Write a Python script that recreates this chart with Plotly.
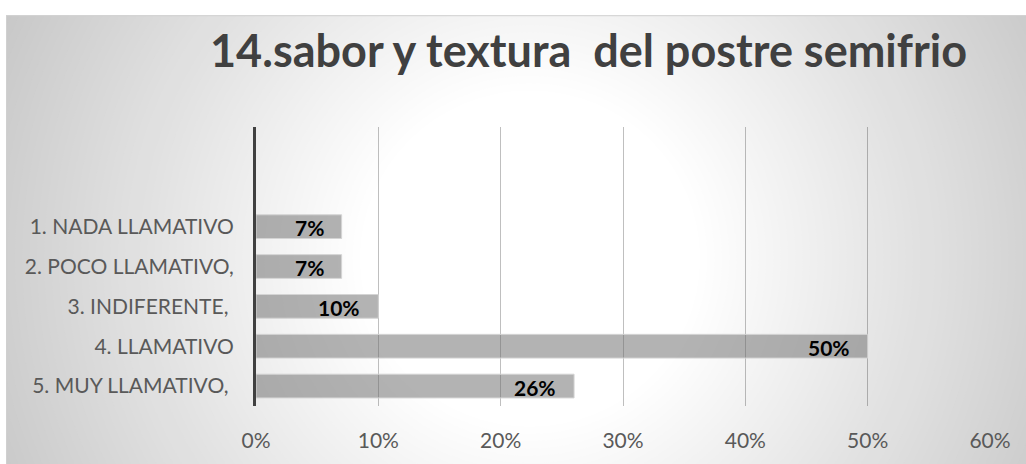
import plotly.graph_objects as go

# ---- data ----
categories = ["1. NADA LLAMATIVO", "2. POCO LLAMATIVO,", "3. INDIFERENTE, ", "4. LLAMATIVO", "5. MUY LLAMATIVO, "]
values = [0.07, 0.07, 0.10, 0.50, 0.26]
x_ticks = [0, 0.1, 0.2, 0.3, 0.4, 0.5, 0.6]
title_text = "14.sabor y textura  del postre semifrio"

# ---- layout geometry (pixels) ----
FW, FH = 1026, 464
L, R, T, B = 256, 990, 127, 409
PW, PH = R - L, B - T

def px_x(p):
    return (p - L) / PW

def px_y(p):
    return (B - p) / PH

FONT = "Lato"

fig = go.Figure()
fig.add_trace(go.Bar(
    x=values,
    y=categories,
    orientation="h",
    marker=dict(color="rgba(110,110,110,0.52)", line=dict(color="#d4d4d4", width=1)),
    hoverinfo="skip",
))

# bar value labels
annotations = []
for c, v in zip(categories, values):
    annotations.append(dict(
        x=v, y=c, xref="x", yref="y", text=f"<b>{v:.0%}</b>", showarrow=False,
        xanchor="right", yanchor="middle", xshift=-16, yshift=-1,
        font=dict(family=FONT, size=21, color="#000000"),
    ))

# title
annotations.append(dict(
    x=px_x(588), y=px_y(49), xref="paper", yref="paper", text=f"<b>{title_text}</b>",
    showarrow=False, xanchor="center", yanchor="middle",
    font=dict(family=FONT, size=45, color="#404040"),
))

# radial gradient background via concentric circles
shapes = []
cx, cy = 530, 260
r0, r1 = 170, 640
N = 64
for i in range(N + 1):
    r = r1 - (r1 - r0) * i / N
    v = int(round(255 - (r - r0) / (r1 - r0) * (255 - 192)))
    col = f"rgb({v},{v},{v})"
    shapes.append(dict(
        type="circle", xref="paper", yref="paper", layer="below",
        x0=px_x(cx - r), x1=px_x(cx + r), y0=px_y(cy + r), y1=px_y(cy - r),
        fillcolor=col, line=dict(width=0),
    ))
# white strips outside the chart frame
shapes.append(dict(type="rect", xref="paper", yref="paper", layer="below",
                   x0=px_x(-10), x1=px_x(FW + 10), y0=px_y(14), y1=px_y(-10),
                   fillcolor="white", line=dict(width=0)))
shapes.append(dict(type="rect", xref="paper", yref="paper", layer="below",
                   x0=px_x(-10), x1=px_x(6), y0=px_y(FH + 10), y1=px_y(-10),
                   fillcolor="white", line=dict(width=0)))
# frame border
shapes.append(dict(type="rect", xref="paper", yref="paper", layer="below",
                   x0=px_x(6.5), x1=px_x(FW + 10), y0=px_y(FH + 10), y1=px_y(14.5),
                   fillcolor="rgba(0,0,0,0)", line=dict(color="#d0d0d0", width=1)))

fig.update_layout(
    width=FW, height=FH,
    margin=dict(l=L, r=FW - R, t=T, b=FH - B, pad=0),
    paper_bgcolor="white",
    plot_bgcolor="rgba(0,0,0,0)",
    showlegend=False,
    bargap=0.405,
    shapes=shapes,
    annotations=annotations,
    xaxis=dict(
        range=[0, 0.6], tickvals=x_ticks, tickformat=".0%",
        showgrid=True, gridcolor="rgba(0,0,0,0.25)", gridwidth=1,
        zeroline=False, showline=False, ticks="",
        tickfont=dict(family=FONT, size=21, color="#595959"),
        ticklabelstandoff=20,
    ),
    yaxis=dict(
        type="category", categoryorder="array", categoryarray=list(reversed(categories)),
        tickvals=categories, ticktext=[c.replace(" ", "\u00a0") for c in categories],
        range=[-0.5, 6.5],
        showgrid=False, zeroline=False,
        showline=True, linecolor="#404040", linewidth=3, ticks="",
        tickfont=dict(family=FONT, size=21, color="#595959"),
        ticklabelstandoff=15,
    ),
)

fig.write_html("out.html")
